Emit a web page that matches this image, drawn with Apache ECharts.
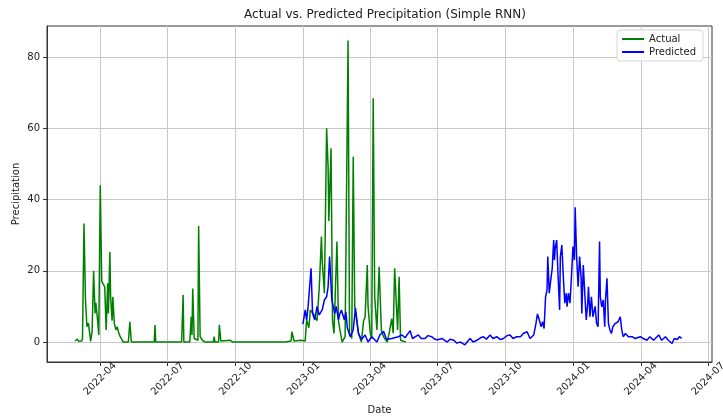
<!DOCTYPE html>
<html>
<head>
<meta charset="utf-8">
<script src="https://cdn.jsdelivr.net/npm/echarts@6/dist/echarts.min.js"></script>
<style>
html,body{margin:0;padding:0;background:#fff;}
#chart{width:723px;height:418px;}
</style>
</head>
<body>
<div id="chart"></div>
<script>
const titleText = 'Actual vs. Predicted Precipitation (Simple RNN)';
const xAxisName = 'Date';
const yAxisName = 'Precipitation';
const seriesNames = ['Actual', 'Predicted'];
const xTickDates = ['2022-04-01','2022-07-01','2022-10-01','2023-01-01','2023-04-01','2023-07-01','2023-10-01','2024-01-01','2024-04-01','2024-07-01'];
const yTicks = [0, 20, 40, 60, 80];

const actualDates = [
 '2022-02-26','2022-03-01','2022-03-03','2022-03-07','2022-03-08','2022-03-10','2022-03-12','2022-03-14','2022-03-16','2022-03-19',
 '2022-03-21','2022-03-23','2022-03-25','2022-03-26','2022-03-28','2022-03-30','2022-04-01','2022-04-03','2022-04-05','2022-04-07',
 '2022-04-09','2022-04-11','2022-04-12','2022-04-14','2022-04-15','2022-04-17','2022-04-18','2022-04-20','2022-04-22','2022-04-24',
 '2022-04-26','2022-04-28','2022-04-30','2022-05-02','2022-05-09','2022-05-11','2022-05-13','2022-06-13','2022-06-14','2022-06-15',
 '2022-07-20','2022-07-22','2022-07-23','2022-07-31','2022-08-02','2022-08-03','2022-08-04','2022-08-06','2022-08-08','2022-08-11',
 '2022-08-12','2022-08-14','2022-08-17','2022-08-21','2022-09-01','2022-09-02','2022-09-03','2022-09-08','2022-09-09','2022-09-11',
 '2022-09-24','2022-09-27','2022-12-03','2022-12-05','2022-12-07','2022-12-15','2022-12-16','2022-12-19','2022-12-29','2023-01-03',
 '2023-01-05','2023-01-08','2023-01-10','2023-01-14','2023-01-19','2023-01-22','2023-01-25','2023-01-26','2023-01-29','2023-02-01',
 '2023-02-03','2023-02-04','2023-02-07','2023-02-09','2023-02-11','2023-02-15','2023-02-17','2023-02-19','2023-02-22','2023-02-26',
 '2023-03-02','2023-03-04','2023-03-07','2023-03-09','2023-03-11','2023-03-16','2023-03-20','2023-03-23','2023-03-25','2023-03-28',
 '2023-03-29','2023-04-01','2023-04-03','2023-04-05','2023-04-07','2023-04-10','2023-04-13','2023-04-16','2023-04-19','2023-04-24',
 '2023-04-27','2023-04-30','2023-05-02','2023-05-04','2023-05-06','2023-05-08','2023-05-10','2023-05-12','2023-05-19'
];
const actualValues = [
 0.3,0.8,0.2,0.3,1.0,33.3,12,4.3,5.3,0.2,
 3,20,8,11,7,2,44,17,16.5,15.5,
 3.4,16.5,8,25.3,12.7,6,12.7,5.3,3.4,4.3,
 2.5,1.5,0.8,0,0,5.7,0,0,4.8,0,
 0,13.2,0,0,7.1,2,15,1,0.5,0.5,
 32.6,1.5,0.5,0,0,1.5,0,0,4.8,0.3,
 0.5,0,0,0.5,0,0.3,2.9,0.3,0.5,0.3,
 6.2,4,9,8,6,15,29.6,23,13.7,60,
 49.2,34,54.4,6,2.4,28.2,6,3.4,0,1.5,
 84.6,2.5,1,52,10,2.5,0,6,7,21.6,
 10,2.5,1,68.4,12.7,3.4,21.1,3.4,1.5,0,
 3,6.6,2.5,20.7,11.8,3.4,18.3,0.5,0
];

const predDates = [
 '2022-12-31','2023-01-03','2023-01-05','2023-01-07','2023-01-11','2023-01-13','2023-01-16','2023-01-19','2023-01-22','2023-01-26',
 '2023-01-29','2023-02-01','2023-02-03','2023-02-05','2023-02-08','2023-02-10','2023-02-12','2023-02-14','2023-02-17','2023-02-19',
 '2023-02-21','2023-02-25','2023-02-27','2023-03-01','2023-03-05','2023-03-09','2023-03-12','2023-03-16','2023-03-20','2023-03-25',
 '2023-03-29','2023-04-03','2023-04-10','2023-04-14','2023-04-19','2023-04-23','2023-04-30','2023-05-09','2023-05-14','2023-05-18',
 '2023-05-25','2023-05-28','2023-06-05','2023-06-09','2023-06-14','2023-06-18','2023-06-23','2023-06-26','2023-06-30','2023-07-07',
 '2023-07-14','2023-07-18','2023-07-23','2023-07-27','2023-08-01','2023-08-07','2023-08-11','2023-08-14','2023-08-18','2023-08-23',
 '2023-08-28','2023-09-01','2023-09-05','2023-09-10','2023-09-14','2023-09-19','2023-09-24','2023-09-28','2023-10-03','2023-10-07',
 '2023-10-11','2023-10-16','2023-10-21','2023-10-25','2023-10-30','2023-11-03','2023-11-08','2023-11-11','2023-11-13','2023-11-15',
 '2023-11-18','2023-11-20','2023-11-22','2023-11-24','2023-11-26','2023-11-27','2023-11-29','2023-12-01','2023-12-03','2023-12-05',
 '2023-12-06','2023-12-07','2023-12-09','2023-12-11','2023-12-13','2023-12-14','2023-12-16','2023-12-18','2023-12-20','2023-12-22',
 '2023-12-23','2023-12-25','2023-12-27','2023-12-29','2023-12-31','2024-01-02','2024-01-03','2024-01-05','2024-01-07','2024-01-09',
 '2024-01-11','2024-01-12','2024-01-14','2024-01-16','2024-01-18','2024-01-20','2024-01-21','2024-01-23','2024-01-25','2024-01-27',
 '2024-01-29','2024-01-30','2024-02-01','2024-02-03','2024-02-05','2024-02-06','2024-02-08','2024-02-10','2024-02-12','2024-02-13',
 '2024-02-15','2024-02-17','2024-02-19','2024-02-21','2024-02-23','2024-02-26','2024-02-28','2024-03-01','2024-03-04','2024-03-06',
 '2024-03-08','2024-03-11','2024-03-15','2024-03-20','2024-03-24','2024-03-31','2024-04-04','2024-04-09','2024-04-13','2024-04-18',
 '2024-04-25','2024-04-29','2024-05-04','2024-05-08','2024-05-13','2024-05-16','2024-05-20','2024-05-23','2024-05-26'
];
const predValues = [
 5,9,6.2,10,20.7,8,6.2,10,7.6,9,
 11.8,12.7,15.5,24,11.8,10,8,10,6.2,8,
 9,6.2,8.5,4,1.5,3.4,9.5,2.5,0.7,2,
 0,1.5,0,2,3,0.7,1,1.5,2,1.2,
 3.2,1,2,1,1,1.8,1.5,1,0.6,1,
 0,0.8,0.5,-0.3,0,-0.8,0.3,1,0,0.5,
 1.2,1.5,0.8,2,1,1.5,0.7,1,1.8,2,
 1,1.5,1.5,2.4,2.9,1,2,5.2,7.9,6.6,
 4.3,5.7,3.8,12.7,14.6,24,13.7,17.4,20.7,28.6,
 23,26.3,28.6,18.3,9,24,27.2,18.3,10.9,13.7,
 9.9,13.7,10.9,18.3,26.8,23,37.8,23.9,15.5,24,
 18.3,8,21.6,13.7,6.2,10.9,15.5,7.1,12.7,7.1,
 6.6,10,5.2,4.3,28.2,12.7,9.9,11.8,4.3,11.8,
 17.9,5.2,3.4,2.4,4.3,5.2,4.8,5.7,7.1,3.4,
 1.5,2.4,1.5,1.5,1,1.5,1,0.5,1.5,0.5,
 2,0.5,1.5,0.5,-0.4,1,0.7,1.5,1
];

function ts(s){ const p = s.split('-'); return Date.UTC(+p[0], +p[1] - 1, +p[2]); }
function pad(n){ return n < 10 ? '0' + n : '' + n; }

const actualData = actualDates.map((d, i) => [ts(d), actualValues[i]]);
const predData = predDates.map((d, i) => [ts(d), predValues[i]]);
const xTickValues = xTickDates.map(ts);

const FONT = 'DejaVu Sans';

const chart = echarts.init(document.getElementById('chart'), null, {renderer: 'canvas'});
chart.setOption({
  animation: false,
  backgroundColor: '#ffffff',
  textStyle: {fontFamily: FONT},
  title: {
    text: titleText,
    left: 380, top: 4, textAlign: 'center',
    textStyle: {fontFamily: FONT, fontSize: 12, fontWeight: 'normal', color: '#222'}
  },
  legend: {
    data: seriesNames,
    orient: 'vertical',
    right: 20, top: 30,
    icon: 'rect', itemWidth: 22, itemHeight: 2, itemGap: 3,
    padding: [4, 7, 4, 5],
    borderColor: '#d5d5d5', borderWidth: 1, borderRadius: 3,
    backgroundColor: 'rgba(255,255,255,0.85)',
    textStyle: {fontFamily: FONT, fontSize: 10, color: '#222'}
  },
  grid: {left: 47, right: 11, top: 26, bottom: 56, outerBoundsMode: 'none', containLabel: false,
         show: true, borderColor: '#333', borderWidth: 1, backgroundColor: 'transparent'},
  xAxis: {
    type: 'value',
    min: ts('2022-01-19'), max: ts('2024-07-06'),
    name: xAxisName, nameLocation: 'middle', nameGap: 43,
    nameTextStyle: {fontFamily: FONT, fontSize: 10, color: '#222'},
    axisLine: {show: true, onZero: false, lineStyle: {color: '#333', width: 1}},
    axisTick: {show: true, length: 4, lineStyle: {color: '#333'}, customValues: xTickValues},
    axisLabel: {
      customValues: xTickValues,
      rotate: 45, fontSize: 10, color: '#222', fontFamily: FONT,
      align: 'center', verticalAlign: 'middle', margin: 17,
      formatter: function (v) { const d = new Date(v); return d.getUTCFullYear() + '-' + pad(d.getUTCMonth() + 1); }
    },
    splitLine: {show: true, lineStyle: {color: '#c8c8c8', width: 1}}
  },
  yAxis: {
    type: 'value',
    min: -5.6, max: 88.7,
    name: yAxisName, nameLocation: 'middle', nameGap: 31, nameMoveOverlap: false,
    nameTextStyle: {fontFamily: FONT, fontSize: 10, color: '#222', verticalAlign: 'middle'},
    axisLine: {show: true, onZero: false, lineStyle: {color: '#333', width: 1}},
    axisTick: {show: true, length: 4, lineStyle: {color: '#333'}, customValues: yTicks},
    axisLabel: {customValues: yTicks, fontSize: 10, color: '#222', fontFamily: FONT, margin: 7},
    splitLine: {show: true, lineStyle: {color: '#c8c8c8', width: 1}}
  },
  series: [
    {name: seriesNames[0], type: 'line', data: actualData, showSymbol: false, symbol: 'none',
     lineStyle: {color: '#008000', width: 1.5}, itemStyle: {color: '#008000'}, z: 2},
    {name: seriesNames[1], type: 'line', data: predData, showSymbol: false, symbol: 'none',
     lineStyle: {color: '#0000ff', width: 1.5}, itemStyle: {color: '#0000ff'}, z: 3}
  ]
});
</script>
</body>
</html>
